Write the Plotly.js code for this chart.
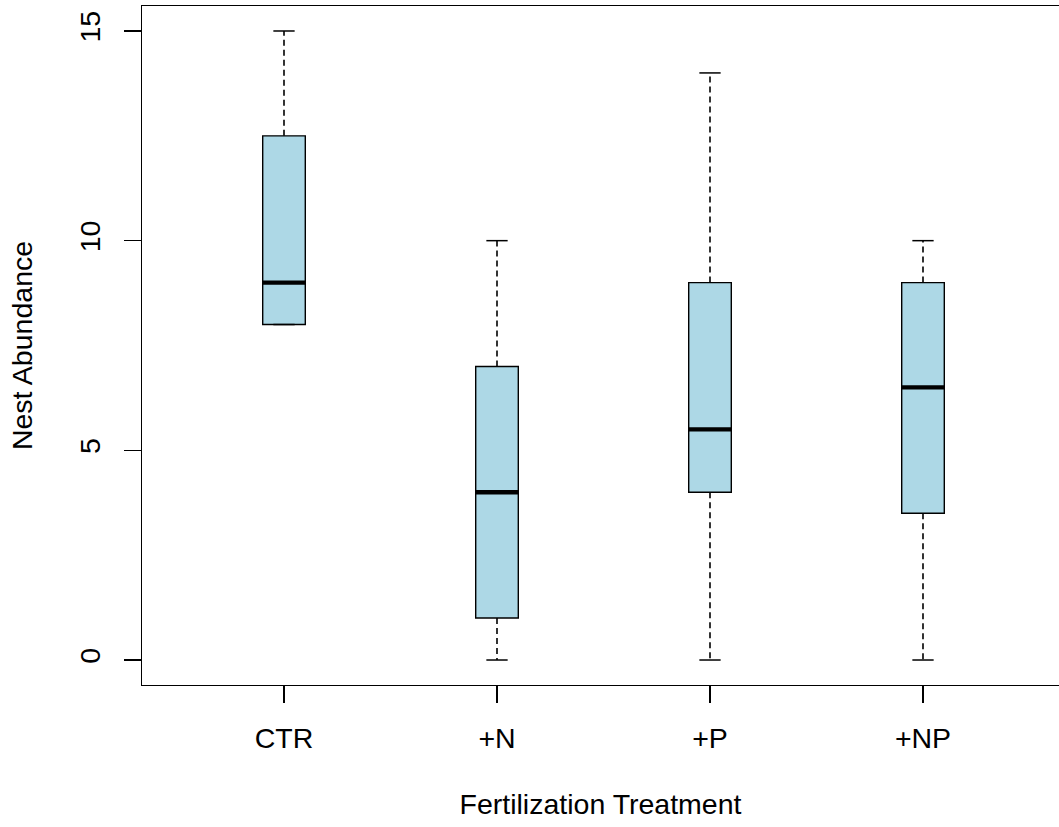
<!DOCTYPE html>
<html>
<head>
<meta charset="utf-8">
<script src="https://cdn.plot.ly/plotly-3.0.1.min.js"></script>
<style>html,body{margin:0;padding:0;background:#fff;}#chart{width:1059px;height:827px;}</style>
</head>
<body>
<div id="chart"></div>
<script>
// Data
var categories = ["CTR", "+N", "+P", "+NP"];
var positions = [1, 2, 3, 4];
var lowerWhisker = [8, 0, 0, 0];
var q1 = [8, 1, 4, 3.5];
var median = [9, 4, 5.5, 6.5];
var q3 = [12.5, 7, 9, 9];
var upperWhisker = [15, 10, 14, 10];
var yTicks = [0, 5, 10, 15];

var boxHalf = 0.1, capHalf = 0.05;

var whiskX = [], whiskY = [], capX = [], capY = [], medX = [], medY = [];
for (var i = 0; i < positions.length; i++) {
  var p = positions[i];
  whiskX.push(p, p, null, p, p, null);
  whiskY.push(q3[i], upperWhisker[i], null, q1[i], lowerWhisker[i], null);
  capX.push(p - capHalf, p + capHalf, null, p - capHalf, p + capHalf, null);
  capY.push(upperWhisker[i], upperWhisker[i], null, lowerWhisker[i], lowerWhisker[i], null);
  medX.push(p - boxHalf, p + boxHalf, null);
  medY.push(median[i], median[i], null);
}

var traces = [
  {
    type: 'scatter', mode: 'lines', x: whiskX, y: whiskY,
    line: {color: '#000', width: 1.6, dash: '6px,4px'},
    hoverinfo: 'skip', showlegend: false
  },
  {
    type: 'scatter', mode: 'lines', x: capX, y: capY,
    line: {color: '#000', width: 1.5},
    hoverinfo: 'skip', showlegend: false
  },
  {
    type: 'box', x: positions, q1: q1, median: median, q3: q3,
    lowerfence: q1, upperfence: q3,
    width: 2 * boxHalf,
    fillcolor: '#ADD8E6',
    line: {color: '#000', width: 1.4},
    whiskerwidth: 0,
    boxpoints: false,
    showlegend: false
  },
  {
    type: 'scatter', mode: 'lines', x: medX, y: medY,
    line: {color: '#000', width: 4.3},
    hoverinfo: 'skip', showlegend: false
  }
];

var fontFam = 'Liberation Sans, Arial, sans-serif';
var fs = 28.5;
var layout = {
  width: 1059, height: 827,
  margin: {l: 142, r: 0, t: 6, b: 142, pad: 0},
  paper_bgcolor: '#fff', plot_bgcolor: '#fff',
  showlegend: false,
  font: {family: fontFam, size: fs, color: '#000'},
  xaxis: {
    range: [1 - 142 / 213, 1 + 775 / 213],
    tickvals: positions, ticktext: categories,
    ticks: 'outside', ticklen: 17, tickwidth: 1.4, tickcolor: '#000',
    showline: true, linecolor: '#000', linewidth: 1.4, mirror: true,
    showgrid: false, zeroline: false,
    tickfont: {family: fontFam, size: fs, color: '#000'},
    ticklabelstandoff: 10,
    title: {text: 'Fertilization Treatment', font: {family: fontFam, size: fs, color: '#000'}, standoff: 41},
    automargin: false
  },
  yaxis: {
    range: [-0.596, 15.596],
    tickvals: yTicks,
    ticks: 'outside', ticklen: 17, tickwidth: 1.4, tickcolor: '#000',
    showline: true, linecolor: '#000', linewidth: 1.4, mirror: false,
    showgrid: false, zeroline: false,
    tickangle: -90,
    tickfont: {family: fontFam, size: fs, color: '#000'},
    ticklabelstandoff: 12,
    title: {text: 'Nest Abundance', font: {family: fontFam, size: fs, color: '#000'}, standoff: 33},
    automargin: false
  }
};

Plotly.newPlot('chart', traces, layout, {staticPlot: true, displayModeBar: false});
</script>
</body>
</html>
